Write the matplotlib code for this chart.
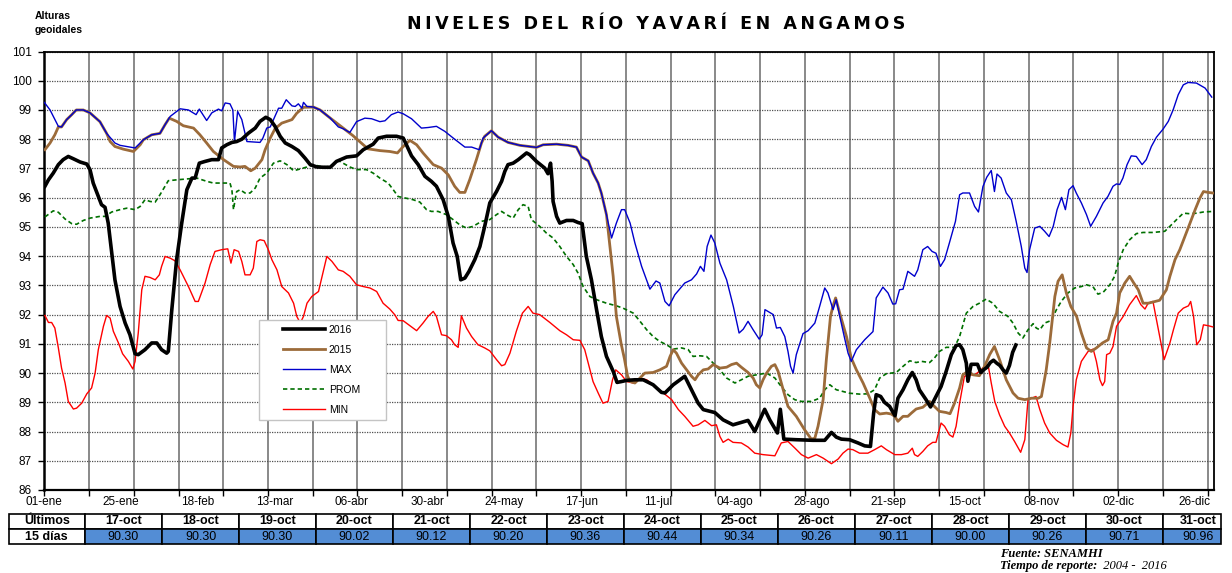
import matplotlib
matplotlib.use('Agg')
import matplotlib.pyplot as plt
from matplotlib.patches import Rectangle

plt.rcParams['font.family'] = ['Liberation Sans', 'DejaVu Sans']

# ---------------- data (day of year 0 = 01-ene, value in m) ----------------
max_days = [0, 1.8, 4.4, 5.4, 7, 8.6, 10, 12.2, 14.3, 17.4, 19.5, 22.1, 23.7, 25.8, 28.4, 31, 33.6, 36.2, 37.8, 39.4, 42.5, 45.1, 47.5, 48.5, 50.8, 52.4, 54.5, 55.5, 56.6, 58.1, 59, 59.5, 60.5, 61.8, 63.4, 67.5, 68.4, 69.6, 70.7, 73.3, 74.3, 75.7, 77.5, 78.5, 79.5, 80.6, 81.1, 82.2, 84.2, 86.3, 89.5, 92,
            93.5, 95.6, 97.7, 100.3, 102.4, 105, 106.6, 108.6, 110.7, 112.3, 114.9, 118, 120.1, 122.7, 125.3, 128.4, 131.6, 133.7, 136.1, 137.3, 139.9, 142, 145.1, 148.8, 151.9, 154, 156.1, 160.3, 163.9, 166.5, 168.1, 170.2, 171.7, 173.3, 174.3, 175.9, 177.5, 179, 180.6, 181.6,
            183.3, 184.8, 186.9, 189.5, 191.4, 192.6, 194.2, 195.5, 197.3, 200.4, 202.5, 204.1, 205.3, 206.4, 207.4, 208.6, 209.8, 211.4, 213.5, 215.6, 217.4, 218.7, 220.2, 221.8, 223.7, 224.6, 225.5, 228.1, 229.1, 230.3, 231.7, 232.7, 233.5, 234.3, 235.3, 237.4, 239, 241.1, 242.6, 244.2, 245.2, 246.8, 247.8, 248.9, 250.4, 251.5, 252.5, 254.1, 256.7, 259.3, 260.3, 262.4, 264, 265.5, 266.4, 267.6, 268.7, 270.2,
            272.3, 273.3, 274.9, 276.4, 277.8, 279, 280.4, 281.7, 283.2, 285.1, 286.4, 287.4, 289.5, 291.1, 292.3, 293.7, 294.9, 296.3, 297.3, 298.1, 299.4, 301, 302.6, 304.1, 305.7, 306.8, 307.5, 308.3, 309.9, 311.5, 313, 314.4, 315.7, 316.9, 318.3, 319.5, 320.6, 321.9, 322.9, 324.5, 326.1, 327.4, 329.2, 331.3, 332.8, 334.4, 335.5, 336.5, 337.5, 338.8, 340.1, 341.7, 343.5, 344.8, 346.4, 348, 350.1, 351.7, 353.2, 354.8, 356.4, 357.9, 360.5, 363.2, 365.3]
max_vals = [99.26, 99.0, 98.44, 98.42, 98.67, 98.84, 99.0, 99.0, 98.9, 98.6, 98.2, 97.87, 97.79, 97.75, 97.7, 97.98, 98.15, 98.2, 98.5, 98.78, 99.04, 99.0, 98.84, 99.03, 98.64, 98.9, 99.03, 98.97, 99.24, 99.21, 99.0, 97.92, 98.95, 98.67, 97.92, 97.89, 98.04, 98.38, 98.42, 99.06, 99.06, 99.35, 99.14, 99.12, 99.21, 99.06, 99.26, 99.12, 99.1, 99.0, 98.72, 98.42,
            98.36, 98.23, 98.6, 98.72, 98.7, 98.6, 98.63, 98.84, 98.93, 98.87, 98.7, 98.38, 98.4, 98.44, 98.27, 98.0, 97.73, 97.73, 97.64, 98.04, 98.29, 98.07, 97.89, 97.79, 97.75, 97.72, 97.81, 97.83, 97.79, 97.73, 97.39, 97.26, 96.84, 96.5, 96.16, 95.42, 94.62, 95.13, 95.59, 95.59,
            95.13, 94.45, 93.65, 92.87, 93.15, 93.08, 92.45, 92.3, 92.68, 93.08, 93.19, 93.39, 93.65, 93.48, 94.33, 94.72, 94.45, 93.76, 93.19, 92.28, 91.37, 91.5, 91.77, 91.48, 91.16, 91.31, 92.17, 92.0, 91.54, 91.56, 91.25, 90.74, 90.23, 90.0, 90.63, 91.35, 91.45, 91.71, 92.28, 92.91, 92.74, 92.17, 92.51, 91.94, 91.2, 90.68, 90.4, 90.8, 91.14, 91.42, 92.57, 92.94, 92.74, 92.36, 92.37, 92.85, 92.87, 93.48,
            93.31, 93.53, 94.22, 94.33, 94.16, 94.1, 93.65, 93.88, 94.45, 95.19, 96.1, 96.16, 96.16, 95.7, 95.51, 96.38, 96.7, 96.93, 96.21, 96.81, 96.67, 96.16, 95.93, 95.19, 94.33, 93.59, 93.44, 94.22, 94.96, 95.02, 94.85, 94.67, 95.02, 95.59, 96.01, 95.59, 96.27, 96.41, 96.16, 95.82, 95.42, 95.02, 95.36, 95.82, 96.04, 96.39, 96.47, 96.45, 96.67, 97.13, 97.43, 97.41, 97.13, 97.3, 97.75, 98.07, 98.35, 98.61, 99.0, 99.52, 99.86, 99.94, 99.92, 99.75, 99.44]

y2016_days = [0.2, 1.3, 2.8, 4.4, 5.9, 7.5, 9.1, 11.2, 13.3, 14.3, 15.3, 16.9, 17.9, 19, 20, 21.1, 22.1, 23.7, 25.3, 26.8, 28.4, 29.4, 31.5, 33.6, 35.2, 36.7, 38.3, 38.8, 39.9, 41.4, 43, 44.6, 46.2, 47.2, 48.5, 50.3, 52.4, 54.5, 55.5, 57.1, 58.7, 60.2, 61.8, 63.9, 66, 67.5, 69.3, 70.7, 72.2, 73.8, 75.4, 77.5, 79.5, 81.6, 83.2, 85.3, 87.4, 89.5, 91.4,
              94.6, 97.7, 99.8, 102.9, 104.5, 107.1, 110.2, 112.3, 113.3, 114.9, 117, 119.1, 121.1, 122.7, 124.8, 126.4, 127.9, 129.2, 130.3, 131.6, 132.9, 134.7, 136.3, 137.8, 139.4, 141.5, 143.1, 144.1, 145.1, 146.7, 148.3, 150.9, 151.9, 154, 156.6, 157.6, 158.4, 158.9, 159.2, 160.3, 161.3, 163.4, 165.5, 167, 168.3, 169.6, 171.2, 172.8, 174.3, 175.9, 178, 179.2, 180.6,
              182.2, 184.8, 187.4, 190.5, 193.1, 194.2, 196.8, 200.4, 202.5, 204.6, 206.2, 209.8, 212.4, 215.5, 220.2, 222.3, 223.9, 225.4, 227, 229.4, 230.3, 231.4, 235.3, 240.5, 244.2, 246.3, 247.8, 249.4, 252, 254.6, 256.7, 258.5, 259.5, 260.3, 261.7, 262.9, 264.5, 266.2, 267.1, 268.7, 270.2, 271.6, 272.8,
              273.8, 275.9, 277.3, 278.5, 280.6, 282.2, 283.8, 285.3, 286.4, 287.4, 288.5, 289, 290, 291, 292, 293, 294, 295, 296, 297, 298, 299, 300, 301, 302, 303, 304]
y2016_vals = [96.39, 96.61, 96.84, 97.13, 97.3, 97.41, 97.33, 97.22, 97.15, 96.96, 96.5, 96.04, 95.76, 95.67, 95.13, 94.1, 93.19, 92.28, 91.71, 91.31, 90.66, 90.63, 90.8, 91.03, 91.03, 90.8, 90.68, 90.74, 92.17, 93.88, 95.13, 96.27, 96.67, 96.67, 97.18, 97.24, 97.3, 97.3, 97.7, 97.81, 97.89, 97.92, 98.0, 98.21, 98.38, 98.61, 98.75, 98.67, 98.44, 98.1, 97.87, 97.75, 97.61, 97.35, 97.13, 97.05, 97.04, 97.04, 97.24,
              97.39, 97.43, 97.64, 97.83, 98.04, 98.1, 98.1, 98.04, 97.81, 97.43, 97.13, 96.73, 96.56, 96.39, 95.93, 95.36, 94.45, 93.99, 93.19, 93.25, 93.48, 93.88, 94.33, 95.02, 95.82, 96.21, 96.56, 96.9, 97.13, 97.18, 97.3, 97.53, 97.47, 97.24, 97.01, 96.82, 97.18, 96.56, 95.87, 95.36, 95.13, 95.22, 95.22, 95.15, 95.11, 93.99, 93.19, 92.17, 91.25, 90.57, 90.06, 89.68, 89.71,
              89.75, 89.77, 89.77, 89.6, 89.34, 89.32, 89.6, 89.89, 89.43, 88.97, 88.75, 88.65, 88.4, 88.23, 88.38, 88.0, 88.4, 88.76, 88.4, 87.95, 88.76, 87.74, 87.72, 87.7, 87.7, 87.97, 87.81, 87.74, 87.72, 87.61, 87.51, 87.49, 88.63, 89.26, 89.2, 89.0, 88.86, 88.54, 89.14, 89.43, 89.77, 90.02, 89.77,
              89.43, 89.09, 88.84, 89.09, 89.54, 90.06, 90.63, 90.94, 90.97, 90.8, 90.34, 89.72, 90.30, 90.30, 90.30, 90.02, 90.12, 90.20, 90.36, 90.44, 90.34, 90.26, 90.11, 90.00, 90.26, 90.71, 90.96]

y2015_days = [0.2, 1.8, 3.3, 4.4, 5.4, 7, 8.6, 10, 12.2, 14.3, 17.4, 19.5, 20.6, 22.1, 24.7, 27.9, 30, 31, 33.6, 36.2, 37.8, 39.1, 41.4, 43.5, 46.7, 48.7, 50.8, 52.9, 56.1, 59.2, 61.3, 62.8, 64.6, 66, 68.1, 69.1, 70.7, 72.2, 74.3, 77.5, 79, 81.1, 84.2, 86.3, 89.5,
              93.5, 96.6, 99.8, 101.3, 105, 108.1, 110.5, 112.3, 114.4, 116.5, 118.5, 121.7, 124.3, 126.4, 128.4, 130, 131.6, 133.1, 135.2, 136.8, 137.8, 139.9, 142, 145.1, 148.8, 151.9, 154, 156.1, 160.3, 163.9, 166.5, 168.1, 170.2, 171.7, 173.3, 174.3, 175.9, 176.7, 178, 179, 180.5, 181.5, 182.5, 183.3,
              184.8, 186.4, 187.9, 190.5, 192.6, 194.7, 195.8, 196.8, 197.8, 199.4, 201, 202.5, 203.6, 204.6, 206.2, 207.7, 209.3, 211.4, 213.5, 215, 216.6, 218.1, 220.2, 221.8, 222.8, 223.9, 224.9, 226, 227.5, 228.6, 229.6, 231.2, 232.7, 235.3, 237.9, 240, 241.1, 242.1, 243.7, 244.7, 246, 246.8, 247.6, 248.9, 251, 252.5, 254.1, 256.2, 258.3, 259.8, 261.4, 263.5, 265, 266.1, 267.1, 268.7, 270.2, 271.3, 272.8,
              274.9, 277, 278.5, 280.1, 282.2, 283.4, 284.8, 286.4, 287.4, 289, 290.6, 292.6, 294.2, 295.8, 297.3, 298.9, 301, 303.1, 304.7, 306.8, 308.9, 311, 312, 313.5, 314.6, 316.2, 317.2, 318.5, 319.8, 321.2, 323, 324.5, 326.1, 327.6, 329.2, 331.1, 332.9, 334.4, 335.5, 336.5, 338.1, 339.6, 340.9, 342.3, 343.8, 345.4, 346.9, 349, 351.1, 352.2, 353.8, 355.3, 356.9, 358.5, 360.1, 361.6, 362.7, 364.2, 365.6]
y2015_vals = [97.64, 97.87, 98.15, 98.42, 98.42, 98.67, 98.84, 99.0, 99.0, 98.9, 98.6, 98.2, 97.92, 97.75, 97.66, 97.58, 97.81, 97.98, 98.15, 98.2, 98.5, 98.72, 98.61, 98.46, 98.38, 98.15, 97.87, 97.58, 97.3, 97.07, 97.05, 97.07, 96.92, 97.01, 97.3, 97.64, 98.04, 98.36, 98.55, 98.67, 98.89, 99.09, 99.1, 99.0, 98.72,
              98.38, 98.12, 97.81, 97.67, 97.61, 97.58, 97.53, 97.75, 97.96, 97.81, 97.53, 97.13, 97.01, 96.78, 96.39, 96.18, 96.18, 96.61, 97.3, 97.87, 98.1, 98.29, 98.07, 97.89, 97.79, 97.75, 97.72, 97.81, 97.83, 97.79, 97.73, 97.39, 97.26, 96.84, 96.5, 96.16, 95.42, 94.62, 93.31, 91.94, 91.0, 90.5, 89.9, 89.71,
              89.66, 89.83, 90.0, 90.02, 90.11, 90.23, 90.57, 90.8, 90.68, 90.34, 90.11, 89.89, 89.77, 89.94, 90.11, 90.14, 90.29, 90.17, 90.2, 90.29, 90.34, 90.2, 90.02, 89.83, 89.6, 89.49, 89.77, 90.0, 90.23, 90.29, 90.06, 89.43, 88.86, 88.52, 88.06, 87.74, 87.77, 88.18, 89.09, 90.46, 91.94, 92.3, 92.57, 92.05, 91.25, 90.51, 90.11, 89.66, 89.14, 88.75, 88.6, 88.63, 88.6, 88.52, 88.35, 88.52, 88.52, 88.63, 88.77,
              88.83, 89.03, 88.86, 88.69, 88.65, 88.61, 88.97, 89.49, 89.94, 90.06, 89.94, 89.91, 90.23, 90.63, 90.91, 90.46, 89.77, 89.32, 89.14, 89.09, 89.14, 89.14, 89.2, 90.11, 91.03, 92.62, 93.14, 93.36, 92.74, 92.28, 91.94, 91.37, 90.86, 90.74, 90.86, 91.03, 91.14, 91.77, 92.05, 92.74, 93.08, 93.31, 93.08, 92.85, 92.39, 92.39, 92.43, 92.49, 92.85, 93.31, 93.88, 94.22, 94.67, 95.13, 95.59, 95.99, 96.21, 96.18, 96.16]

prom_days = [0.2, 2.8, 4.4, 6.5, 8.6, 10.1, 12.2, 14.3, 17.4, 19, 21.1, 23.7, 25.8, 28.4, 30, 31.5, 33.1, 34.7, 36.2, 38.8, 41.4, 44.6, 47.7, 50.8, 52.9, 55.5, 58.1, 58.7, 59.2, 59.7, 60.2, 61.3, 62.8, 64.4, 66, 67.5, 69.6, 71.7, 73.8, 75.9, 78, 80, 82.2, 84.2, 86.3, 88.4, 90.5, 92,
             93.5, 95.6, 97.7, 100.8, 102.9, 105, 107.6, 109.2, 110.7, 112.8, 115.4, 117.5, 119.6, 121.1, 123.2, 125.8, 127.9, 130, 132.1, 134.2, 136.8, 139.4, 141.5, 143.1, 144.6, 146.7, 148.3, 149.8, 151.4, 152.4, 155, 157.1, 159.2, 161.3, 163.4, 165.5, 167, 168.6, 170.7, 172.8, 175.9, 179, 181.1,
             184.3, 186.4, 188.5, 190.5, 192.6, 194.7, 196.8, 199.4, 201.5, 203, 205.1, 207.2, 209.3, 211.4, 213.5, 216.1, 218.1, 220.2, 222.8, 226, 228.6, 230.6, 232.7, 234.8, 236.9, 240, 242.6, 244.2, 245.8, 247.8, 249.9, 252, 255.1, 257.7, 259.8, 261.4, 263.5, 266.6, 268.7, 270.8, 272.8,
             274.5, 277, 278.5, 280.1, 282.2, 284.8, 286.4, 288.5, 290.6, 292.6, 294.7, 296.8, 298.9, 301.5, 303.1, 304.7, 306.2, 307.8, 309.4, 310.4, 311.5, 313, 315.1, 316.7, 318.2, 320.3, 322.4, 324.5, 326.1, 328.1, 329.7, 331.3, 333.4, 334.9, 336, 337.6, 339.6, 341.7, 343.8, 346.9, 350.6, 352.2, 354.3, 356.4, 358.5, 360.6, 362.7, 365.8]
prom_vals = [95.34, 95.55, 95.5, 95.27, 95.11, 95.09, 95.22, 95.3, 95.36, 95.36, 95.51, 95.59, 95.64, 95.59, 95.7, 95.93, 95.87, 95.85, 96.1, 96.58, 96.61, 96.64, 96.67, 96.56, 96.5, 96.5, 96.5, 96.27, 95.59, 95.93, 96.21, 96.27, 96.16, 96.16, 96.33, 96.67, 96.84, 97.18, 97.26, 97.13, 96.92, 96.98, 97.05, 97.13, 97.07, 97.05, 97.13, 97.27,
             97.18, 97.05, 96.96, 96.96, 96.84, 96.67, 96.5, 96.27, 96.04, 95.99, 95.93, 95.85, 95.59, 95.53, 95.53, 95.42, 95.25, 95.07, 94.96, 95.02, 95.19, 95.25, 95.42, 95.53, 95.42, 95.3, 95.59, 95.76, 95.7, 95.25, 95.02, 94.79, 94.62, 94.33, 93.99, 93.71, 93.42, 92.96, 92.62, 92.51, 92.39, 92.3, 92.22,
             92.05, 91.77, 91.48, 91.25, 91.08, 90.97, 90.82, 90.86, 90.8, 90.57, 90.59, 90.57, 90.34, 90.11, 89.83, 89.66, 89.77, 89.89, 89.94, 90.0, 89.83, 89.54, 89.26, 89.09, 89.03, 89.03, 89.14, 89.43, 89.6, 89.43, 89.37, 89.31, 89.28, 89.29, 89.43, 89.83, 89.98, 90.02, 90.23, 90.42, 90.36,
             90.4, 90.36, 90.51, 90.74, 90.88, 90.88, 91.25, 92.05, 92.28, 92.39, 92.53, 92.39, 92.11, 91.94, 91.71, 91.37, 91.2, 91.48, 91.69, 91.54, 91.48, 91.71, 91.8, 92.17, 92.45, 92.74, 92.91, 92.96, 93.02, 92.96, 92.7, 92.76, 93.02, 93.31, 93.76, 94.22, 94.56, 94.77, 94.81, 94.81, 94.85, 95.02, 95.25, 95.47, 95.45, 95.47, 95.51, 95.53]

min_days = [0.2, 1.3, 2.3, 3.3, 4.4, 5.4, 6.5, 7.5, 9.1, 10.1, 11.7, 13.3, 14.8, 15.9, 16.9, 18.5, 19.5, 20.6, 21.6, 23.2, 24.5, 26.3, 27.7, 28.4, 29.4, 30.5, 31.5, 33.1, 34.7, 36, 36.7, 37.8, 39.4, 40.9, 42.5, 45.1, 47.2, 48.2, 50.3, 51.9, 53.4, 55.5, 57.4, 58.4, 59.4, 60.8, 61.8, 62.8, 64.4, 65.4, 66.5, 67.5, 68.8, 70.1, 71.2, 72.8, 74.3, 76.4, 78, 79, 80.1, 81.1, 82.2, 83.7, 85.8, 87.4, 88.4, 90, 92,
            93.5, 95.6, 97.7, 99.8, 101.9, 104, 106, 108.1, 109.7, 110.7, 112.3, 114.4, 116.5, 118.5, 120.1, 121.7, 122.7, 124.3, 125.8, 127.4, 128.4, 129.5, 130.5, 132.1, 133.7, 135.7, 137.8, 139.4, 141.5, 143.1, 144.1, 145.7, 147.7, 149.6, 151.4, 152.9, 155, 158.2, 161.3, 163.4, 165.5, 167.6, 169.1, 170.2, 171.7, 173.3, 174.8, 176.4, 177.8, 178.8, 180.6,
            182.2, 184.3, 186.4, 188.5, 190.5, 193.7, 196.3, 198.4, 200.4, 203, 204.6, 206.7, 208.8, 210.3, 211.4, 212.4, 214, 215.5, 218.1, 220.2, 222.3, 224.9, 228.6, 230.6, 232.7, 234.8, 236.9, 239, 241.6, 243.7, 246.3, 248.4, 249.9, 251.5, 253, 255.1, 257.7, 259.8, 261.9, 263.5, 266.1, 268.2, 270.2, 271.6, 272.3, 273.3,
            274.9, 276.4, 278, 279, 280.6, 281.7, 283.2, 284.3, 285.3, 286.4, 287.9, 289.5, 291.1, 292.6, 294.2, 295.3, 296.3, 297.4, 298.9, 300.5, 302, 303.6, 305.5, 306.8, 307.8, 308.9, 310.3, 311.5, 313, 314.6, 316.7, 318.8, 320.3, 321.2, 321.9, 322.9, 324.5, 326.6, 328.2, 329.2, 330.3, 331.1, 331.8, 332.4, 333.4, 334.4, 335.5, 337.6, 339.6, 341.7, 343.1, 344.4, 345.4, 346.9, 348, 349.2, 350.4, 352.2, 353.3, 354.8, 356.4, 358, 358.7, 359.6, 360.6, 361.7, 362.7, 364.2, 365.6]
min_vals = [91.97, 91.73, 91.73, 91.54, 90.86, 90.17, 89.66, 89.03, 88.77, 88.8, 88.97, 89.29, 89.49, 90.0, 90.8, 91.6, 91.97, 91.88, 91.43, 91.03, 90.66, 90.4, 90.14, 90.4, 91.37, 92.85, 93.31, 93.27, 93.19, 93.36, 93.65, 93.99, 93.93, 93.84, 93.53, 92.96, 92.45, 92.45, 93.08, 93.71, 94.16, 94.22, 94.25, 93.76, 94.22, 94.16, 93.82, 93.36, 93.36, 93.59, 94.5, 94.56, 94.53, 94.22, 93.88, 93.53, 92.96, 92.74, 92.39, 91.94, 91.71, 91.94, 92.39, 92.62, 92.79, 93.53, 93.99, 93.82, 93.53,
            93.48, 93.31, 93.02, 92.96, 92.91, 92.79, 92.39, 92.19, 91.99, 91.8, 91.79, 91.62, 91.45, 91.71, 91.94, 92.11, 91.94, 91.31, 91.28, 91.14, 90.97, 90.88, 91.96, 91.54, 91.25, 90.97, 90.86, 90.76, 90.46, 90.25, 90.29, 90.68, 91.43, 92.05, 92.28, 92.05, 92.0, 91.73, 91.45, 91.31, 91.14, 91.12, 90.8, 90.34, 89.71, 89.32, 88.97, 89.03, 89.77, 90.11, 89.94,
            89.71, 89.66, 89.83, 89.77, 89.6, 89.32, 89.09, 88.75, 88.52, 88.18, 88.23, 88.38, 88.2, 88.23, 87.83, 87.63, 87.74, 87.63, 87.61, 87.47, 87.26, 87.21, 87.17, 87.61, 87.66, 87.44, 87.21, 87.09, 87.21, 87.09, 86.9, 87.06, 87.26, 87.4, 87.38, 87.26, 87.26, 87.38, 87.51, 87.38, 87.21, 87.21, 87.26, 87.43, 87.21, 87.15,
            87.32, 87.51, 87.63, 87.63, 88.29, 88.18, 87.89, 87.81, 88.18, 88.97, 89.89, 89.94, 89.94, 90.06, 90.23, 90.29, 89.66, 89.03, 88.57, 88.18, 87.95, 87.66, 87.29, 87.72, 89.09, 89.14, 89.2, 88.75, 88.29, 87.95, 87.7, 87.55, 87.47, 87.95, 88.86, 89.77, 90.4, 90.74, 90.82, 90.4, 89.77, 89.57, 89.71, 90.63, 90.68, 90.91, 91.6, 91.94, 92.34, 92.65, 92.34, 92.19, 92.39, 92.45, 91.82, 91.14, 90.46, 91.03, 91.48, 92.05, 92.22, 92.3, 92.45, 91.94, 90.97, 91.14, 91.65, 91.62, 91.58]

axis_label_days = [0, 24, 48, 72, 96, 120, 144, 168, 192, 216, 240, 264, 288, 312, 336, 360]
axis_labels = ['01-ene', '25-ene', '18-feb', '13-mar', '06-abr', '30-abr', '24-may', '17-jun',
               '11-jul', '04-ago', '28-ago', '21-sep', '15-oct', '08-nov', '02-dic', '26-dic']

table_dates = ['17-oct', '18-oct', '19-oct', '20-oct', '21-oct', '22-oct', '23-oct', '24-oct',
               '25-oct', '26-oct', '27-oct', '28-oct', '29-oct', '30-oct', '31-oct']
table_values = [90.30, 90.30, 90.30, 90.02, 90.12, 90.20, 90.36, 90.44,
                90.34, 90.26, 90.11, 90.00, 90.26, 90.71, 90.96]

title = 'NIVELES DEL RÍO YAVARÍ EN ANGAMOS'

# ---------------- figure ----------------
W, H = 1232, 573
fig = plt.figure(figsize=(W / 100, H / 100), dpi=100)


def fx(x):
    return x / W


def fy(y):
    return 1 - y / H


ax = fig.add_axes([fx(44.3), fy(490), (1214 - 44.3) / W, (490 - 51.5) / H])

C_2015 = '#9C6B3A'
l_min, = ax.plot(min_days, min_vals, color='#FF0000', lw=1.0, zorder=3)
l_prom, = ax.plot(prom_days, prom_vals, color='#007000', lw=1.2, ls=(0, (2.6, 1.8)), zorder=3)
l_2015, = ax.plot(y2015_days, y2015_vals, color=C_2015, lw=2.0, zorder=4)
l_max, = ax.plot(max_days, max_vals, color='#0000CC', lw=1.0, zorder=5)
l_2016, = ax.plot(y2016_days, y2016_vals, color='black', lw=2.6, zorder=6)

ax.set_xlim(0, 366)
ax.set_ylim(86, 101)
ax.set_yticks(range(86, 102))
ax.tick_params(axis='y', direction='out', length=4, width=1, pad=5, labelsize=8.5)

ax.set_xticks(range(0, 366, 14))
ax.set_xticklabels([])
ax.set_xticks(axis_label_days, minor=True)
ax.set_xticklabels(axis_labels, minor=True)
ax.xaxis.remove_overlapping_locs = False
ax.tick_params(axis='x', which='major', direction='out', length=4, width=1)
ax.tick_params(axis='x', which='minor', length=0, pad=4, labelsize=8.5)

ax.set_axisbelow(True)
ax.grid(axis='x', which='major', color='#808080', lw=1.3)
ax.grid(axis='y', which='major', color='#505050', lw=0.9, ls=(0, (1, 1)))
for s in ax.spines.values():
    s.set_color('black')
    s.set_linewidth(1.3)
ax.spines['left'].set_linewidth(1.8)
ax.spines['bottom'].set_linewidth(1.6)

# legend box + frameless legend
ax.add_patch(Rectangle((fx(259), fy(420)), 127 / W, 100 / H, transform=fig.transFigure,
                       facecolor='white', edgecolor='#C4C4C4', lw=1.0, zorder=9, clip_on=False))
leg = ax.legend([l_2016, l_2015, l_max, l_prom, l_min], ['2016', '2015', 'MAX', 'PROM', 'MIN'],
                loc='upper left', bbox_to_anchor=(fx(283), fy(325)), bbox_transform=fig.transFigure,
                fontsize=7.5, handlelength=4.0, labelspacing=0.96, borderpad=0, handletextpad=0.4,
                borderaxespad=0, frameon=False)
leg.set_zorder(10)

# ---------------- texts ----------------
fig.text(fx(656), fy(24), '\u2009'.join(title), ha='center', va='center',
         fontsize=12.6, fontweight='bold', family=['DejaVu Sans'])
fig.text(fx(35), fy(16), 'Alturas', ha='left', va='center', fontsize=7.5, fontweight='bold')
fig.text(fx(35), fy(30), 'geoidales', ha='left', va='center', fontsize=7.5, fontweight='bold')

serif = ['Liberation Serif', 'DejaVu Serif']
fig.text(fx(1000), fy(554), 'Fuente: SENAMHI', ha='left', va='center', fontsize=9,
         fontweight='bold', style='italic', family=serif)
t2 = fig.text(fx(1000), fy(566), 'Tiempo de reporte:', ha='left', va='center', fontsize=9,
              fontweight='bold', style='italic', family=serif)
ax.annotate('  2004 -  2016', xy=(1, 0.5), xycoords=t2, va='center', ha='left', fontsize=9,
            style='italic', family=serif, annotation_clip=False)

# ---------------- table ----------------
tab_top, tab_mid, tab_bot = 514, 529, 544
x_left, x_first = 8.5, 85.0
col_w = 77.0
x_right = 1221.0
BLUE = '#538DD5'


def cell(x0, x1, y0, y1, fc):
    fig.add_artist(Rectangle((fx(x0), fy(y1)), (x1 - x0) / W, (y1 - y0) / H,
                             transform=fig.transFigure, facecolor=fc, edgecolor='black', lw=1.2))


cell(x_left, x_first, tab_top, tab_mid, 'white')
cell(x_left, x_first, tab_mid, tab_bot, 'white')
fig.text(fx((x_left + x_first) / 2), fy((tab_top + tab_mid) / 2), 'Últimos', ha='center', va='center',
         fontsize=9, fontweight='bold')
fig.text(fx((x_left + x_first) / 2), fy((tab_mid + tab_bot) / 2), '15 días', ha='center', va='center',
         fontsize=9, fontweight='bold')
for i, (d, v) in enumerate(zip(table_dates, table_values)):
    x0 = x_first + i * col_w
    x1 = min(x0 + col_w, x_right)
    xc = x0 + col_w / 2 - (3 if x1 < x0 + col_w else 0)
    cell(x0, x1, tab_top, tab_mid, 'white')
    cell(x0, x1, tab_mid, tab_bot, BLUE)
    fig.text(fx(xc), fy((tab_top + tab_mid) / 2), d, ha='center', va='center', fontsize=9,
             fontweight='bold')
    fig.text(fx(xc), fy((tab_mid + tab_bot) / 2), f'{v:.2f}', ha='center', va='center', fontsize=9)

fig.savefig('out.png', dpi=100)
